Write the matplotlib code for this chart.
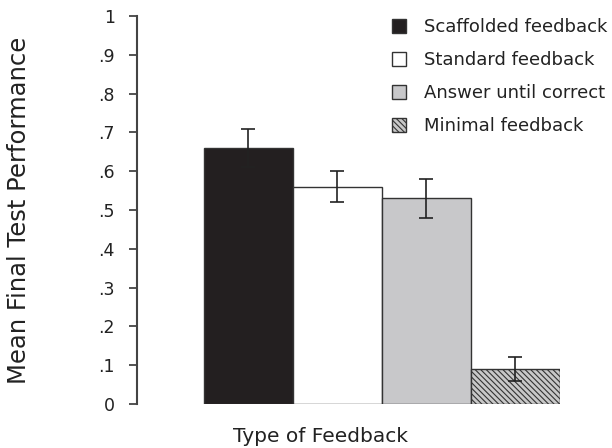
import matplotlib.pyplot as plt
from matplotlib.patches import Patch

plt.rcParams["font.family"] = ["DejaVu Sans"]
plt.rcParams["hatch.linewidth"] = 0.8
plt.rcParams["hatch.color"] = "#3a3a3a"

# data
conditions = ["Scaffolded feedback", "Standard feedback",
              "Answer until correct", "Minimal feedback"]
means = [0.66, 0.56, 0.53, 0.09]
errors = [0.05, 0.04, 0.05, 0.03]
yticks = [0, 0.1, 0.2, 0.3, 0.4, 0.5, 0.6, 0.7, 0.8, 0.9, 1.0]
yticklabels = ["0", ".1", ".2", ".3", ".4", ".5", ".6", ".7", ".8", ".9", "1"]

colors = ["#231f20", "#ffffff", "#c8c8ca", "#c8c8c8"]
hatches = ["", "", "", "\\\\\\\\\\\\"]
edge = "#333333"

fig = plt.figure(figsize=(6.12, 4.48), dpi=100)
ax = fig.add_axes([137 / 612, 1 - 404 / 448, (560 - 137) / 612, (404 - 16) / 448])

x = list(range(len(means)))
bars = ax.bar(x, means, width=1.0, color=colors, edgecolor=edge, linewidth=1.0)
for b, h in zip(bars, hatches):
    b.set_hatch(h)
ax.errorbar(x, means, yerr=errors, fmt="none", ecolor="#222222",
            elinewidth=1.2, capsize=5, capthick=1.2)

ax.set_xlim(-1.25, 3.5)
ax.set_ylim(0, 1)
ax.set_yticks(yticks)
ax.set_yticklabels(yticklabels, fontsize=12.5, color="#222222")
ax.set_xticks([])
for s in ["top", "right", "bottom"]:
    ax.spines[s].set_visible(False)
ax.spines["left"].set_color("#444444")
ax.spines["left"].set_linewidth(1.5)
ax.tick_params(axis="y", direction="out", length=6, width=1.3, color="#444444", pad=10)

ax.set_ylabel("Mean Final Test Performance", fontsize=17.5, color="#222222")
ax.yaxis.set_label_coords(-0.25, 0.5)
ax.set_xlabel("Type of Feedback", fontsize=14.5, color="#222222")
ax.xaxis.set_label_coords(0.433, -0.06)

handles = [Patch(facecolor=c, edgecolor=edge, hatch=h, linewidth=1.0)
           for c, h in zip(colors, hatches)]
fig.legend(handles, conditions, loc="upper left", bbox_to_anchor=(376 / 612, 1 - 2 / 448),
           frameon=False, fontsize=13, handlelength=0.75, handleheight=0.75,
           handletextpad=1.0, labelspacing=0.83, labelcolor="#222222")

fig.savefig("out.png", dpi=100)
